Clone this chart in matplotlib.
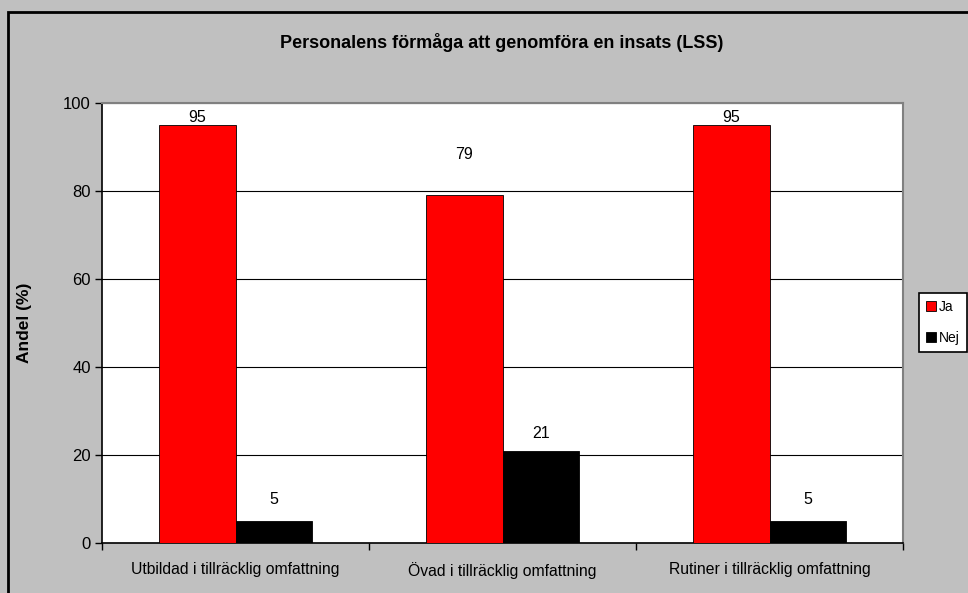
import numpy as np
import matplotlib.pyplot as plt
from matplotlib.patches import Rectangle

plt.rcParams['font.family'] = ['Liberation Sans', 'DejaVu Sans']

kategorier = ["Utbildad i tillräcklig omfattning", "Övad i tillräcklig omfattning",
              "Rutiner i tillräcklig omfattning"]
ja = [95, 79, 95]
nej = [5, 21, 5]
serier = ["Ja", "Nej"]

# etiketternas avstånd ovanför staplarna (i procentenheter)
offset_ja = [1.8, 9.2, 1.8]
offset_nej = [4.8, 4.0, 4.8]

fig = plt.figure(figsize=(9.68, 5.93), dpi=100, facecolor="#C0C0C0")
ax = fig.add_axes([0.1054, 0.0843, 0.8275, 0.742])
ax.set_facecolor("white")

# ram runt hela diagrammet
fig.patches.append(Rectangle((8 / 968, -0.1), 1.2, 1 - 12 / 593 + 0.1, transform=fig.transFigure,
                             fill=False, edgecolor="black", linewidth=2, zorder=0))

x = np.arange(len(kategorier))
b = 0.287
ax.bar(x - b / 2, ja, width=b, color="#FF0000", edgecolor="black", linewidth=0.6, label=serier[0], zorder=3)
ax.bar(x + b / 2, nej, width=b, color="black", edgecolor="black", linewidth=0.6, label=serier[1], zorder=3)

for i in range(len(x)):
    ax.text(x[i] - b / 2, ja[i] + offset_ja[i], str(ja[i]), ha="center", va="center", fontsize=11.5)
    ax.text(x[i] + b / 2, nej[i] + offset_nej[i], str(nej[i]), ha="center", va="center", fontsize=11.5)

ax.set_xlim(-0.5, 2.5)
ax.set_ylim(0, 100)
ax.set_yticks(range(0, 101, 20))
ax.set_xticks([-0.5, 0.5, 1.5, 2.5])
ax.set_xticklabels([])
ax.set_xticks(x, minor=True)
ax.set_xticklabels(kategorier, minor=True, fontsize=11.3)
ax.tick_params(axis="x", which="minor", length=0, pad=14)
ax.tick_params(axis="x", which="major", length=5, width=1, direction="out")
ax.tick_params(axis="y", length=5, width=1, direction="out", labelsize=12, pad=3)

ax.yaxis.grid(True, color="black", linewidth=0.8, zorder=0)
ax.set_axisbelow(True)
for s in ["top", "right"]:
    ax.spines[s].set_color("#808080")
    ax.spines[s].set_linewidth(1.5)
for s in ["left", "bottom"]:
    ax.spines[s].set_color("black")
    ax.spines[s].set_linewidth(1.2)

fig.text(25 / 968, 1 - 323 / 593, "Andel (%)", rotation=90, ha="center", va="center",
         fontsize=12.5, fontweight="bold")
fig.text(0.518, 1 - 42 / 593, "Personalens förmåga att genomföra en insats (LSS)",
         ha="center", va="center", fontsize=13, fontweight="bold")

leg = fig.legend(loc="upper left", bbox_to_anchor=(919 / 968, 1 - 293 / 593), fontsize=10,
                 frameon=True, fancybox=False, edgecolor="black", facecolor="white", framealpha=1,
                 handlelength=0.7, handleheight=0.7, handletextpad=0.25, borderpad=0.5,
                 labelspacing=1.2, borderaxespad=0)
leg.get_frame().set_linewidth(1.2)

fig.savefig("out.png", dpi=100, facecolor=fig.get_facecolor())
